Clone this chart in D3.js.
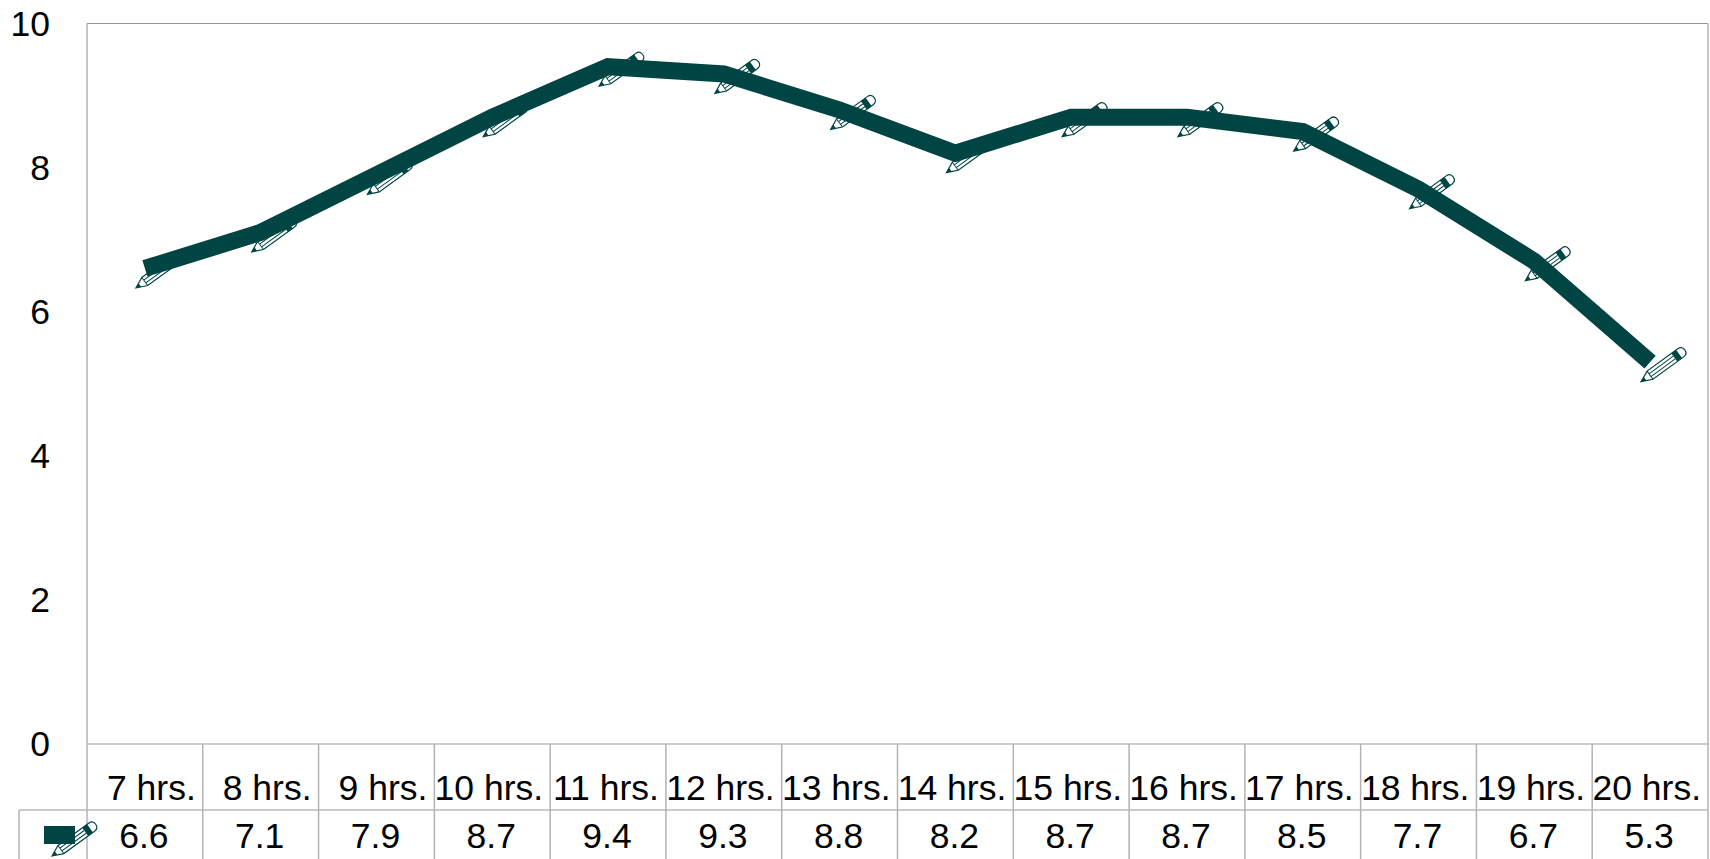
<!DOCTYPE html>
<html>
<head>
<meta charset="utf-8">
<script src="https://cdn.jsdelivr.net/npm/d3@7"></script>
<style>
  html, body { margin: 0; padding: 0; background: #fff; overflow: hidden; }
  svg { display: block; }
  text { font-family: "Liberation Sans", Arial, sans-serif; font-size: 35.5px; fill: #000; }
  .grid { stroke: #b3b3b3; stroke-width: 1.5; fill: none; }
  .hgrid { stroke: #999; stroke-width: 1; fill: none; }
</style>
</head>
<body>
<div id="chart"></div>
<script>
var categories = ["7 hrs.", "8 hrs.", "9 hrs.", "10 hrs.", "11 hrs.", "12 hrs.", "13 hrs.", "14 hrs.", "15 hrs.", "16 hrs.", "17 hrs.", "18 hrs.", "19 hrs.", "20 hrs."];
var values = [6.6, 7.1, 7.9, 8.7, 9.4, 9.3, 8.8, 8.2, 8.7, 8.7, 8.5, 7.7, 6.7, 5.3];
var yTicks = [0, 2, 4, 6, 8, 10];

var fullWidth = 1710, fullHeight = 859;
var margin = {top: 23.5, right: 2, bottom: 115, left: 87};
var width = fullWidth - margin.left - margin.right,
    height = fullHeight - margin.top - margin.bottom;
var color = "#004444";

var x = d3.scaleBand().domain(categories).range([0, width]);
var y = d3.scaleLinear().domain([0, 10]).range([height, 0]);

var svg = d3.select("#chart").append("svg")
    .attr("width", fullWidth)
    .attr("height", fullHeight)
    .append("g")
    .attr("transform", "translate(" + margin.left + "," + margin.top + ")");

// top and bottom of the plot frame, the sides come with the table separators
svg.selectAll(".frame")
    .data([0, 10])
    .enter().append("line")
    .attr("class", "hgrid frame")
    .attr("x1", 0).attr("x2", width)
    .attr("y1", function(d) { return y(d); })
    .attr("y2", function(d) { return y(d); });

// y axis labels
var yAxis = d3.axisLeft(y).tickValues(yTicks).tickSize(0).tickPadding(37);
var yG = svg.append("g").call(yAxis);
yG.select(".domain").remove();
yG.selectAll("text").attr("dy", "0.33em");

// data table under the plot
var rowTop = height, rowMid = height + 66, rowBottom = fullHeight - margin.top;
var table = svg.append("g");

table.append("line").attr("class", "hgrid")
    .attr("x1", -68).attr("x2", width)
    .attr("y1", rowMid).attr("y2", rowMid);
table.append("line").attr("class", "grid")
    .attr("x1", -68).attr("x2", -68)
    .attr("y1", rowMid).attr("y2", rowBottom);

table.selectAll(".sep")
    .data(categories.concat(["end"]))
    .enter().append("line")
    .attr("class", "grid sep")
    .attr("x1", function(d, i) { return i * x.bandwidth(); })
    .attr("x2", function(d, i) { return i * x.bandwidth(); })
    .attr("y1", function(d, i) { return (i == 0 || i == categories.length) ? 0 : rowTop; })
    .attr("y2", rowBottom);

table.selectAll(".cat")
    .data(categories)
    .enter().append("text")
    .attr("text-anchor", "end")
    .attr("x", function(d) { return x(d) + x.bandwidth() - 7; })
    .attr("y", rowTop + 56)
    .text(function(d) { return d; });

table.selectAll(".val")
    .data(values)
    .enter().append("text")
    .attr("text-anchor", "middle")
    .attr("x", function(d, i) { return x(categories[i]) + x.bandwidth() / 2 - 1; })
    .attr("y", rowMid + 38)
    .text(function(d) { return d3.format(".1f")(d); });

// pencil marker, tip at the origin, pointing down-left once rotated
function pencil(g) {
    g.append("path")
        .attr("d", "M0,0 L11,-5 L46,-5 L49,-5 Q54,-5 54,0 Q54,5 49,5 L11,5 Z")
        .attr("fill", "#fff")
        .attr("stroke", color)
        .attr("stroke-width", 1.2);
    g.append("path")
        .attr("d", "M11,-5 L11,5 M11,-1.7 L41,-1.7 M11,1.7 L41,1.7")
        .attr("fill", "none")
        .attr("stroke", color)
        .attr("stroke-width", 1);
    g.append("rect")
        .attr("x", 41).attr("y", -5)
        .attr("width", 6).attr("height", 10)
        .attr("fill", color);
    g.append("path")
        .attr("d", "M0,0 L5,-2.2 L5,2.2 Z")
        .attr("fill", color);
}

svg.selectAll(".marker")
    .data(values)
    .enter().append("g")
    .attr("class", "marker")
    .attr("transform", function(d, i) {
        var px = x(categories[i]) + x.bandwidth() / 2 - 9;
        return "translate(" + px + "," + (y(d) + 19.5) + ") rotate(-36)";
    })
    .each(function() { pencil(d3.select(this)); });

// series line
var line = d3.line()
    .x(function(d, i) { return x(categories[i]) + x.bandwidth() / 2; })
    .y(function(d) { return y(d); });

svg.append("path")
    .datum(values)
    .attr("d", line)
    .attr("fill", "none")
    .attr("stroke", color)
    .attr("stroke-width", 17)
    .attr("stroke-linejoin", "miter");

// legend key in the table
var key = svg.append("g").attr("transform", "translate(-35," + (rowMid + 46) + ")");
pencil(key.append("g").attr("transform", "rotate(-36)"));
key.append("rect")
    .attr("x", -8).attr("y", -30)
    .attr("width", 31).attr("height", 18)
    .attr("fill", color);
</script>
</body>
</html>
